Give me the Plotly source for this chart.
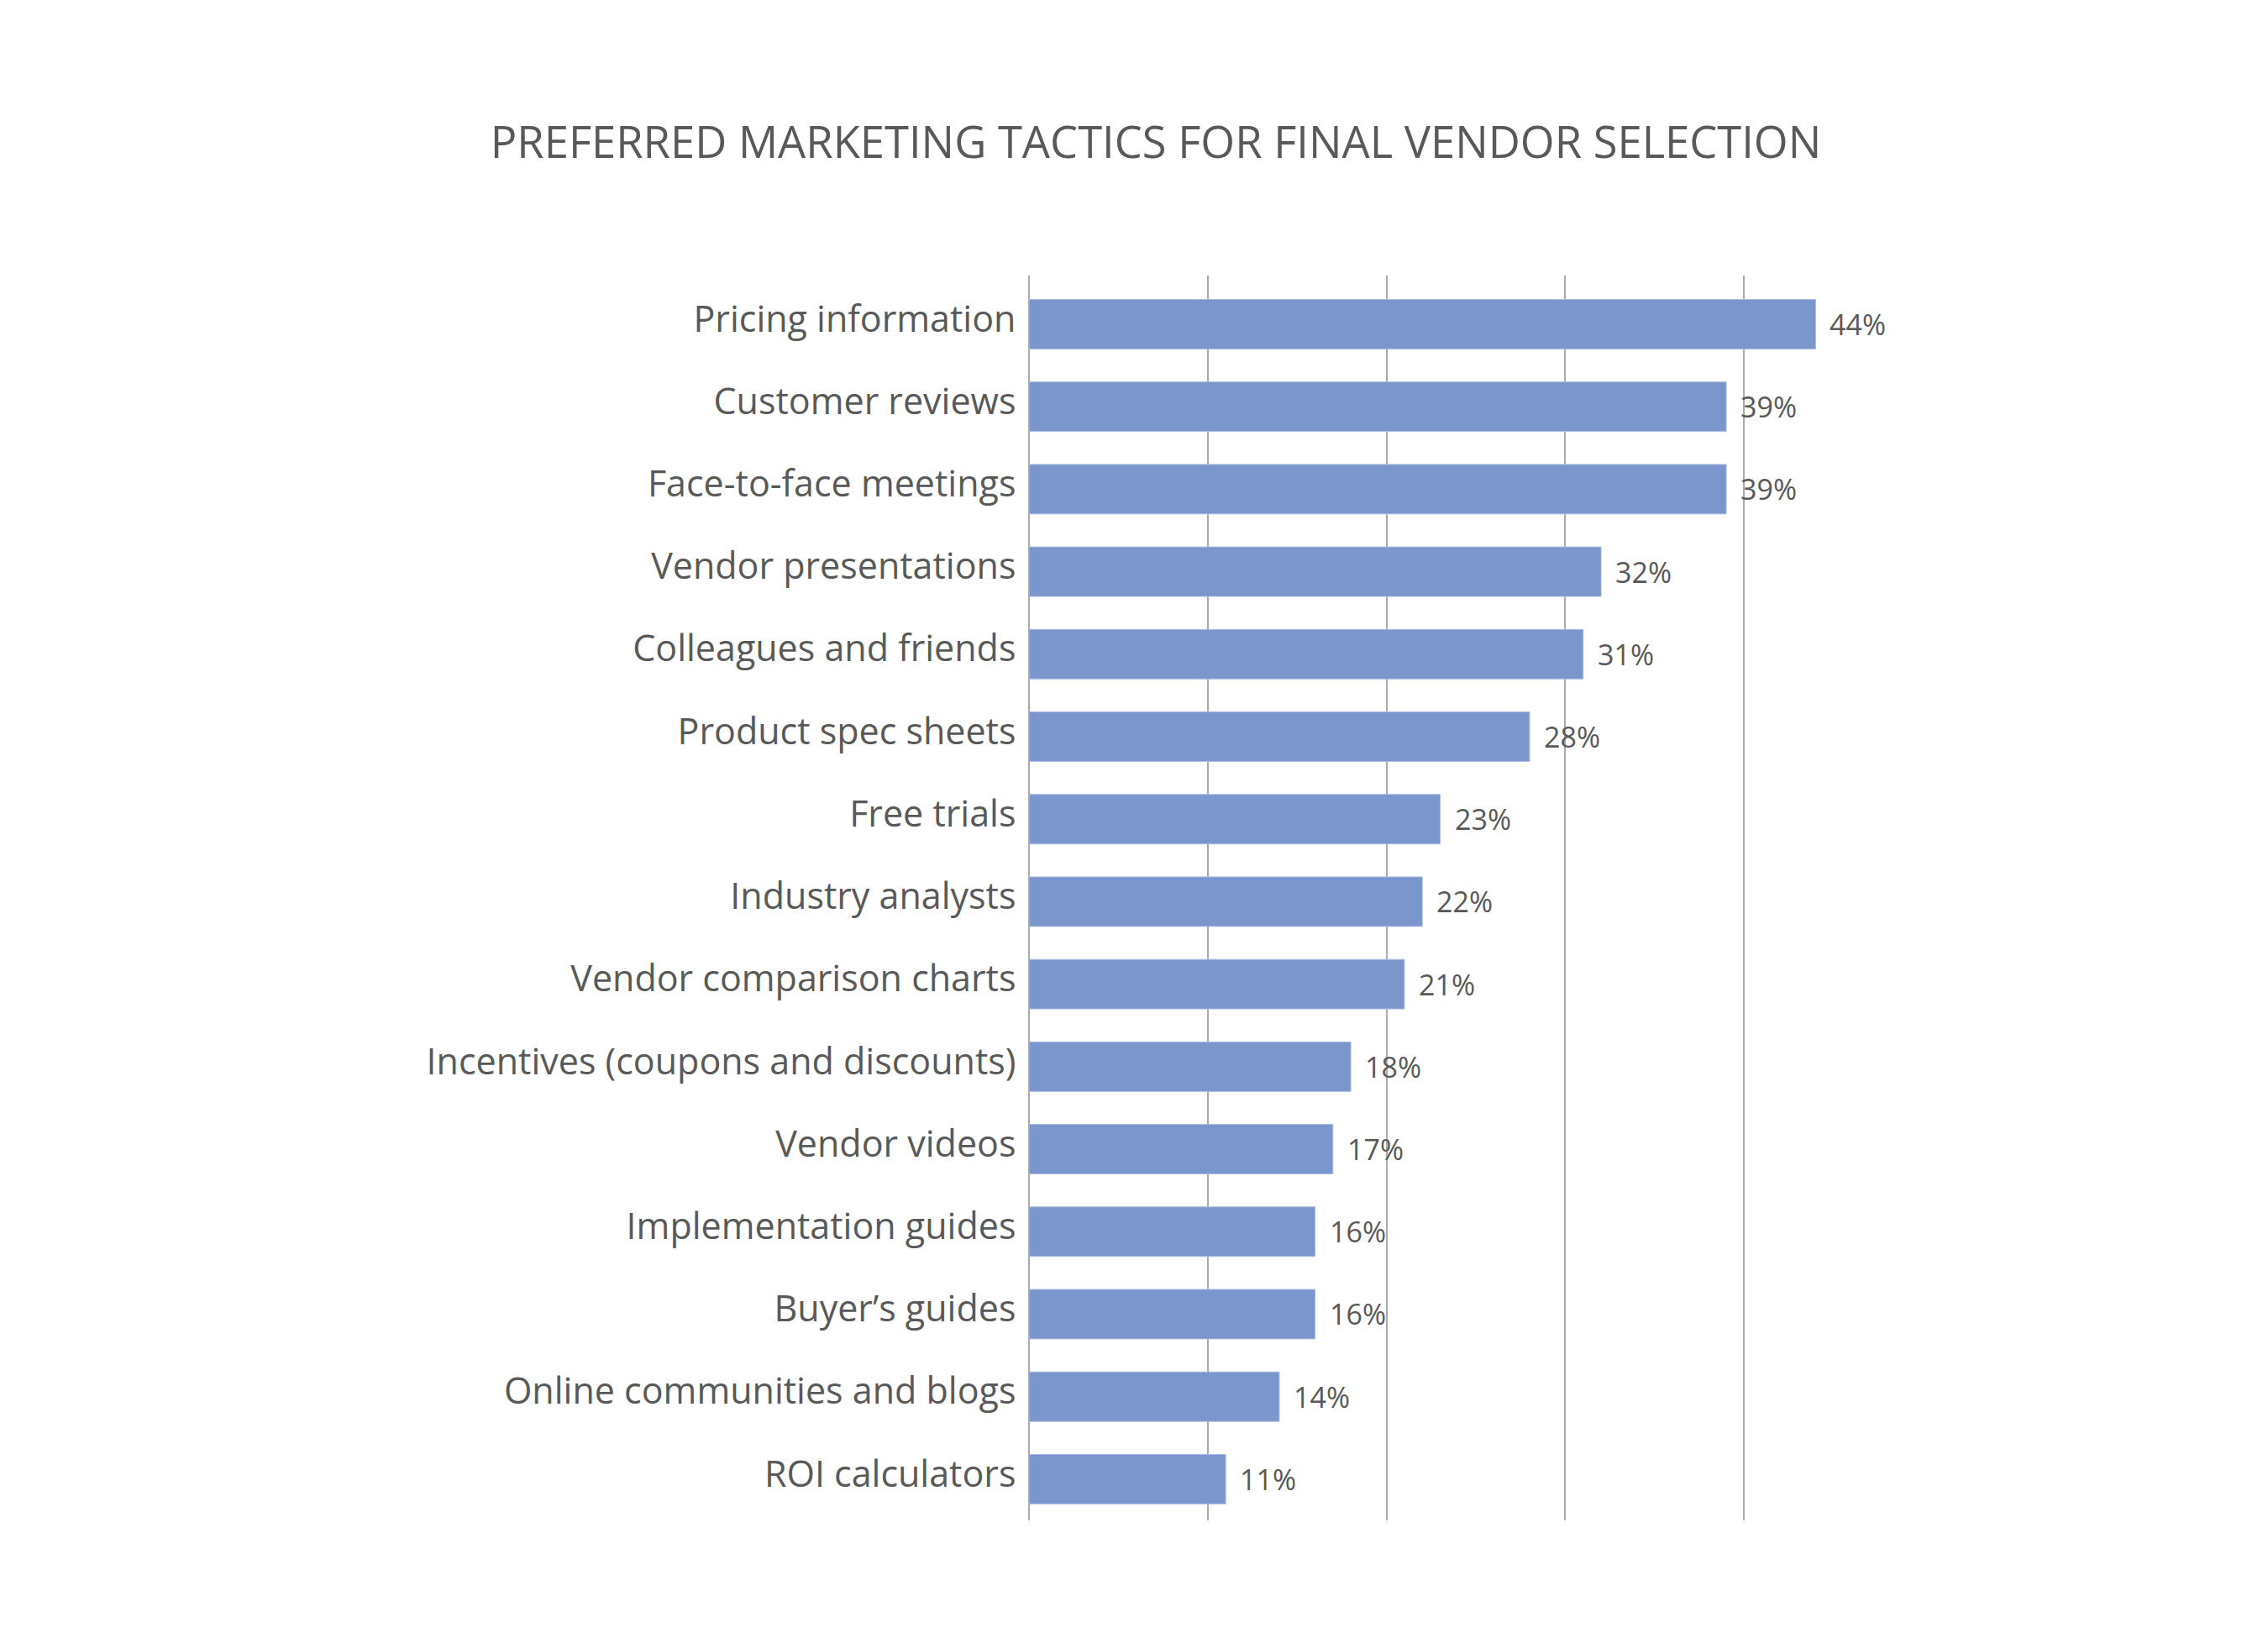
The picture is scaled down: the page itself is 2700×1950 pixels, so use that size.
import plotly.graph_objects as go

categories = [
    "Pricing information",
    "Customer reviews",
    "Face-to-face meetings",
    "Vendor presentations",
    "Colleagues and friends",
    "Product spec sheets",
    "Free trials",
    "Industry analysts",
    "Vendor comparison charts",
    "Incentives (coupons and discounts)",
    "Vendor videos",
    "Implementation guides",
    "Buyer\u2019s guides",
    "Online communities and blogs",
    "ROI calculators",
]
values = [44, 39, 39, 32, 31, 28, 23, 22, 21, 18, 17, 16, 16, 14, 11]
labels = [f"{v}%" for v in values]
x_ticks = [0, 10, 20, 30, 40]
title_text = "PREFERRED MARKETING TACTICS FOR FINAL VENDOR SELECTION"

TEXT = "#595959"
FONT = "Open Sans"
GRID = "#ABABAB"

fig = go.Figure()
fig.add_trace(go.Bar(
    x=values,
    y=categories,
    orientation="h",
    marker=dict(color="#7B96CC", line=dict(color="#A9BBE2", width=1)),
    hoverinfo="skip",
))
# invisible companion trace that carries the category tick labels (slightly raised, as in the original)
fig.add_trace(go.Scatter(
    x=values,
    y=categories,
    yaxis="y2",
    mode="markers",
    marker=dict(opacity=0),
    hoverinfo="skip",
))

for c, v, t in zip(categories, values, labels):
    fig.add_annotation(
        x=v, y=c, text=t, showarrow=False,
        xanchor="left", yanchor="middle", xshift=15,
        font=dict(family=FONT, size=34, color=TEXT),
    )

fig.update_layout(
    width=2700,
    height=1950,
    paper_bgcolor="white",
    plot_bgcolor="white",
    margin=dict(l=1217, r=504, t=320, b=148),
    bargap=0.4,
    showlegend=False,
    title=dict(
        text=title_text,
        x=1368 / 2700, xref="container", xanchor="center",
        y=1 - 162 / 1950, yref="container", yanchor="middle",
        font=dict(family=FONT, size=52.5, color=TEXT),
    ),
    xaxis=dict(
        range=[0, 46],
        tickvals=x_ticks,
        showticklabels=False,
        showgrid=True,
        gridcolor=GRID,
        gridwidth=2,
        zeroline=True,
        zerolinecolor=GRID,
        zerolinewidth=2,
        showline=False,
    ),
    yaxis=dict(
        categoryorder="array",
        categoryarray=categories,
        range=[14.5, -0.59],
        showgrid=False,
        zeroline=False,
        showline=False,
        showticklabels=False,
    ),
    yaxis2=dict(
        overlaying="y",
        side="left",
        anchor="x",
        categoryorder="array",
        categoryarray=categories,
        range=[14.565, -0.525],
        showgrid=False,
        zeroline=False,
        showline=False,
        ticks="outside",
        ticklen=6,
        tickcolor="rgba(0,0,0,0)",
        tickfont=dict(family=FONT, size=43, color=TEXT),
    ),
)

fig.write_html("out.html")
